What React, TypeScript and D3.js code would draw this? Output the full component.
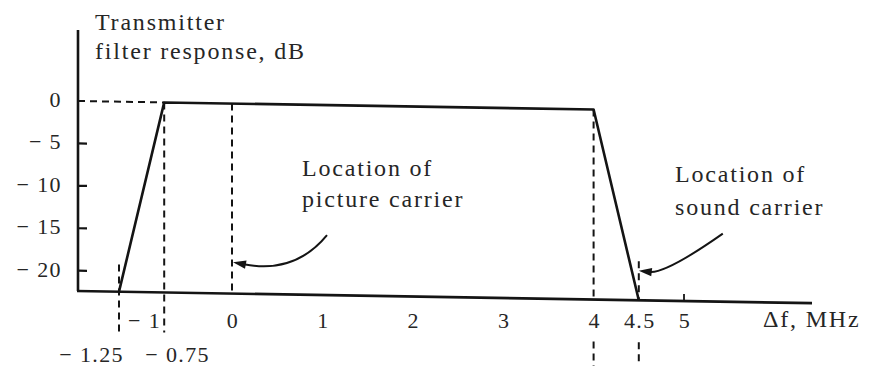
import React from 'react';
import * as d3 from 'd3';

const W = 870;
const H = 366;

// Transmitter (vestigial-sideband) filter breakpoints: offset from picture carrier, MHz
const breakFreqs = [-1.25, -0.75, 4, 4.5];
// Response at each breakpoint, dB (the skirts run down to the bottom of the axis)
const AXIS_FLOOR_DB = -22.4;
const breakDb = [AXIS_FLOOR_DB, 0, 0, AXIS_FLOOR_DB];

const yTickValues = [0, -5, -10, -15, -20];
const yTickLabels = ['0', '− 5', '− 10', '− 15', '− 20'];

const xTickValues = [-1, 0, 1, 2, 3, 4, 4.5, 5];
const xTickLabels = ['− 1', '0', '1', '2', '3', '4', '4.5', '5'];

const edgeFreqs = [-1.25, -0.75];
const edgeLabels = ['− 1.25', '− 0.75'];

// Dashed guides: frequency, upper end (dB), how far down they run
const guideFreqs = [-1.25, -0.75, 0, 4, 4.5];
const guideTopDb = [-19.2, 0, 0, 0, -17.8];
const guideBottom = ['below', 'below', 'axis', 'edge', 'edge'];

const titleLines = ['Transmitter', 'filter response, dB'];
const xAxisTitle = 'Δf, MHz';

const FONT = '"Liberation Serif", "Times New Roman", serif';
const INK = '#141414';
const TEXT = '#262626';

export default function App() {
  const axisX = 78;
  const axisTop = 30;
  const axisRight = 812;
  const labelBaseline = 328;

  const x = d3.scaleLinear().domain([0, 5]).range([232, 684]);
  const y = d3.scaleLinear().domain([AXIS_FLOOR_DB, 0]).range([291, 101]);
  const axisY = y(AXIS_FLOOR_DB);

  const response = d3
    .line<number>()
    .x((_, i) => x(breakFreqs[i]))
    .y((d) => y(d))(breakDb) as string;

  // slight downward slant of the drawn frame toward the right
  const slant = `translate(${axisX},0) skewY(0.95) translate(${-axisX},0)`;

  // vertical dashed segments; the ones reaching the page edge skip the tick-label row
  const guideSegments = guideFreqs.flatMap((f, i) => {
    const top = y(guideTopDb[i]);
    const kind = guideBottom[i];
    if (kind === 'axis') return [{ f, y1: top, y2: axisY }];
    if (kind === 'below') return [{ f, y1: top, y2: axisY + 40 }];
    return [
      { f, y1: top, y2: axisY },
      { f, y1: labelBaseline + 5, y2: H + 20 },
    ];
  });

  // curved annotation arrows, tip anchored on the guide lines
  const notes = [
    {
      freq: 0,
      db: -19,
      tipDx: 1,
      tail: [94, -27],
      ctrl: [62, 12],
      lines: ['Location of', 'picture carrier'],
      textX: 302,
      textY: [176, 207],
    },
    {
      freq: 4.5,
      db: -20,
      tipDx: 0,
      tail: [84, -37],
      ctrl: [27, 3],
      lines: ['Location of', 'sound carrier'],
      textX: 675,
      textY: [182, 215],
    },
  ];

  const textStyle = {
    fontFamily: FONT,
    fontSize: 24,
    letterSpacing: 1.8,
    fill: TEXT,
  } as const;
  const tickStyle = {
    fontFamily: FONT,
    fontSize: 22,
    letterSpacing: 1.4,
    fill: TEXT,
  } as const;

  return (
    <svg
      width={W}
      height={H}
      viewBox={`0 0 ${W} ${H}`}
      style={{ position: 'absolute', left: 0, top: 0, display: 'block', background: '#fff' }}
    >
      <rect x={0} y={0} width={W} height={H} fill="#fff" />

      {/* axis title */}
      {titleLines.map((t, i) => (
        <text key={t} x={95} y={30 + i * 29} {...textStyle}>
          {t}
        </text>
      ))}

      <g transform={slant}>
        {/* dashed guides */}
        <line
          x1={axisX}
          x2={x(-0.75)}
          y1={y(0)}
          y2={y(0)}
          stroke={INK}
          strokeWidth={2}
          strokeDasharray="7 5"
        />
        {guideSegments.map((s, i) => (
          <line
            key={`g${i}`}
            x1={x(s.f)}
            x2={x(s.f)}
            y1={s.y1}
            y2={s.y2}
            stroke={INK}
            strokeWidth={2}
            strokeDasharray="7 5"
          />
        ))}

        {/* axes */}
        <line x1={axisX} x2={axisX} y1={axisTop} y2={axisY} stroke={INK} strokeWidth={2.6} />
        <line x1={axisX - 1} x2={axisRight} y1={axisY} y2={axisY} stroke={INK} strokeWidth={2.6} />
        {yTickValues
          .filter((v) => v !== 0)
          .map((v) => (
            <line key={`yt${v}`} x1={axisX} x2={axisX + 9} y1={y(v)} y2={y(v)} stroke={INK} strokeWidth={2.2} />
          ))}
        <line x1={x(5)} x2={x(5)} y1={axisY} y2={axisY - 7} stroke={INK} strokeWidth={1.8} />

        {/* filter response */}
        <path d={response} fill="none" stroke={INK} strokeWidth={2.6} strokeLinejoin="round" />
      </g>

      {/* y tick labels */}
      {yTickValues.map((v, i) => (
        <text key={`yl${v}`} x={62} y={y(v) + 6} textAnchor="end" {...tickStyle}>
          {yTickLabels[i]}
        </text>
      ))}

      {/* x tick labels */}
      {xTickValues.map((v, i) => (
        <text
          key={`xl${v}`}
          x={x(v) + (v === -1 ? 3 : 1)}
          y={labelBaseline}
          textAnchor="middle"
          {...tickStyle}
        >
          {xTickLabels[i]}
        </text>
      ))}
      <text x={x(edgeFreqs[0]) + 5} y={362} textAnchor="end" {...tickStyle}>
        {edgeLabels[0]}
      </text>
      <text x={x(edgeFreqs[1]) - 19} y={362} textAnchor="start" {...tickStyle}>
        {edgeLabels[1]}
      </text>

      <text x={763} y={327} {...textStyle}>
        {xAxisTitle}
      </text>

      {/* annotations */}
      {notes.map((n, k) => {
        const tx = x(n.freq) + n.tipDx;
        const ty = y(n.db);
        const sx = tx + n.tail[0];
        const sy = ty + n.tail[1];
        const cx = tx + n.ctrl[0];
        const cy = ty + n.ctrl[1];
        const ang = Math.atan2(ty - cy, tx - cx);
        const len = 13;
        const half = 4.2;
        const bx = tx - len * Math.cos(ang);
        const by = ty - len * Math.sin(ang);
        const px = -Math.sin(ang) * half;
        const py = Math.cos(ang) * half;
        const shaftEnd = [tx - (len - 2) * Math.cos(ang), ty - (len - 2) * Math.sin(ang)];
        return (
          <g key={`n${k}`}>
            <path
              d={`M${sx},${sy} Q${cx},${cy} ${shaftEnd[0]},${shaftEnd[1]}`}
              fill="none"
              stroke={INK}
              strokeWidth={2}
            />
            <path d={`M${tx},${ty} L${bx + px},${by + py} L${bx - px},${by - py} Z`} fill={INK} />
            {n.lines.map((t, i) => (
              <text key={t} x={n.textX} y={n.textY[i]} {...textStyle}>
                {t}
              </text>
            ))}
          </g>
        );
      })}
    </svg>
  );
}
